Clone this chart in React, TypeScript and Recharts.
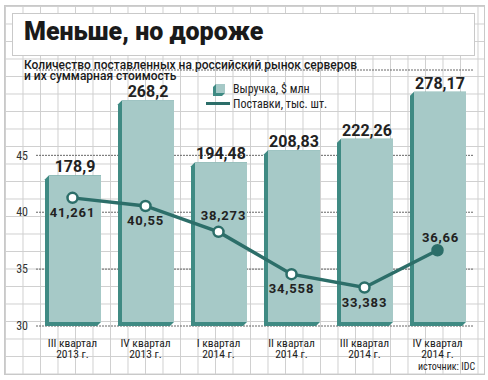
import { ComposedChart, Bar, Line, XAxis, YAxis, CartesianGrid, LabelList } from "recharts";

const quarters = ["III квартал", "IV квартал", "I квартал", "II квартал", "III квартал", "IV квартал"];
const years = ["2013 г.", "2013 г.", "2014 г.", "2014 г.", "2014 г.", "2014 г."];
const revenue = [178.9, 268.2, 194.48, 208.83, 222.26, 278.17];
const shipments = [41.261, 40.55, 38.273, 34.558, 33.383, 36.66];
const lineTicks = [30, 35, 40, 45];
// where each shipment label sits relative to its point
const labelSide = ["below", "below", "above", "below", "below", "above"];

const data = quarters.map((q, i) => ({
  q: `${q}|${years[i]}`,
  revenue: revenue[i],
  shipments: shipments[i],
}));

const FACE = "#a6c9c7";
const EDGE = "#3f8a83";
const LINE = "#2c6e69";
const NARROW = "'Liberation Sans Narrow', 'Roboto Condensed', Roboto";
const fmt = (v: number) => String(v).replace(".", ",");

const BarShape = (props: any) => {
  const { x, y, width, height } = props;
  const d = 4;
  return (
    <g>
      <polygon
        points={`${x},${y + d} ${x + d},${y} ${x + width},${y} ${x + width},${y + height - d} ${x + width - d},${y + height} ${x},${y + height}`}
        fill={EDGE}
      />
      <rect x={x + d} y={y} width={width - d} height={height - d} fill={FACE} />
    </g>
  );
};

const XTick = (props: any) => {
  const { x, y, payload } = props;
  const [a, b] = String(payload.value).split("|");
  return (
    <text x={x} y={y} textAnchor="middle" fontFamily={NARROW} fontSize={11.5} fill="#222">
      <tspan x={x} dy={13}>{a}</tspan>
      <tspan x={x} dy={11}>{b}</tspan>
    </text>
  );
};

const BarLabel = (props: any) => {
  const { x, y, width, value } = props;
  return (
    <text x={x + width / 2 + 2} y={y - 3} textAnchor="middle" fontFamily="Roboto" fontWeight={700} fontSize={16} fill="#222">
      {fmt(value)}
    </text>
  );
};

const PointLabel = (props: any) => {
  const { x, y, value, index } = props;
  const above = labelSide[index] === "above";
  const last = index === shipments.length - 1;
  const dy = above ? (last ? -8 : -12) : 19;
  const dx = last ? 3 : above ? 5 : 0;
  return (
    <text x={x + dx} y={y + dy} textAnchor="middle" fontFamily="Roboto" fontWeight={700} fontSize={13} letterSpacing={0.8} fill="#222">
      {fmt(value)}
    </text>
  );
};

const Dot = (props: any) => {
  const { cx, cy, index } = props;
  const last = index === shipments.length - 1;
  return <circle key={index} cx={cx} cy={cy} r={5} fill={last ? LINE : "#fff"} stroke={LINE} strokeWidth={2.5} />;
};

const LegendBox = () => (
  <div style={{ position: "absolute", left: 206, top: 81, width: 140, height: 30, fontFamily: NARROW, fontSize: 12, color: "#222" }}>
    <svg width={30} height={30} style={{ position: "absolute", left: 0, top: 0 }}>
      <polygon points="7,6 10,3 19,3 19,12 16,15 7,15" fill={EDGE} />
      <rect x={10} y={3} width={9} height={9} fill={FACE} />
      <rect x={0} y={21} width={24} height={3} fill={LINE} />
    </svg>
    <div style={{ position: "absolute", left: 27, top: 1, whiteSpace: "nowrap", lineHeight: "14px" }}>Выручка, $ млн</div>
    <div style={{ position: "absolute", left: 27, top: 16, whiteSpace: "nowrap", lineHeight: "14px" }}>Поставки, тыс. шт.</div>
  </div>
);

export default function App() {
  return (
    <div style={{ position: "absolute", left: 0, top: 0, width: 488, height: 380, background: "#fff", overflow: "hidden" }}>
      <div
        style={{
          position: "absolute",
          left: 4,
          top: 5,
          width: 479,
          height: 368,
          border: "1px solid #c9c9c9",
          backgroundImage: "linear-gradient(to right, #cfcfcf 1px, transparent 1px), linear-gradient(to bottom, #cfcfcf 1px, transparent 1px)",
          backgroundSize: "17.5px 17.5px",
          backgroundPosition: "0px 0px",
        }}
      />
      <div style={{ position: "absolute", left: 12, top: 13, width: 461, height: 41, background: "#fff", border: "1px solid #c9c9c9" }} />
      <div style={{ position: "absolute", left: 24, top: 17, fontFamily: "Roboto", fontWeight: 900, fontSize: 25, color: "#1a1a1a", whiteSpace: "nowrap" }}>
        Меньше, но дороже
      </div>
      <div style={{ position: "absolute", left: 24, top: 60, fontFamily: "Roboto", fontWeight: 500, fontSize: 12, lineHeight: "10.5px", color: "#1a1a1a", whiteSpace: "nowrap" }}>
        Количество поставленных на российский рынок серверов
        <br />и их суммарная стоимость
      </div>
      <ComposedChart width={488} height={380} data={data} margin={{ top: 70, right: 14, left: 6, bottom: 0 }} style={{ position: "absolute", left: 0, top: 0 }}>
        <CartesianGrid yAxisId="line" vertical={false} stroke="#666" strokeDasharray="2 1" />
        <XAxis dataKey="q" axisLine={false} tickLine={false} interval={0} tick={<XTick />} height={54} />
        <YAxis yAxisId="rev" hide domain={[0, 304]} />
        <YAxis
          yAxisId="line"
          width={30}
          domain={[30, 52.5]}
          ticks={lineTicks}
          axisLine={false}
          tickLine={false}
          tick={{ fontSize: 12, fill: "#333", fontFamily: NARROW }}
        />
        <Bar yAxisId="rev" dataKey="revenue" name="Выручка, $ млн" barSize={56} shape={<BarShape />} isAnimationActive={false}>
          <LabelList dataKey="revenue" content={<BarLabel />} />
        </Bar>
        <Line
          yAxisId="line"
          dataKey="shipments"
          name="Поставки, тыс. шт."
          stroke={LINE}
          strokeWidth={3.5}
          dot={<Dot />}
          activeDot={false}
          isAnimationActive={false}
        >
          <LabelList dataKey="shipments" content={<PointLabel />} />
        </Line>
      </ComposedChart>
      <LegendBox />
      <div style={{ position: "absolute", left: 418, top: 361, fontFamily: NARROW, fontSize: 10, color: "#222", whiteSpace: "nowrap" }}>
        источник: IDC
      </div>
    </div>
  );
}
